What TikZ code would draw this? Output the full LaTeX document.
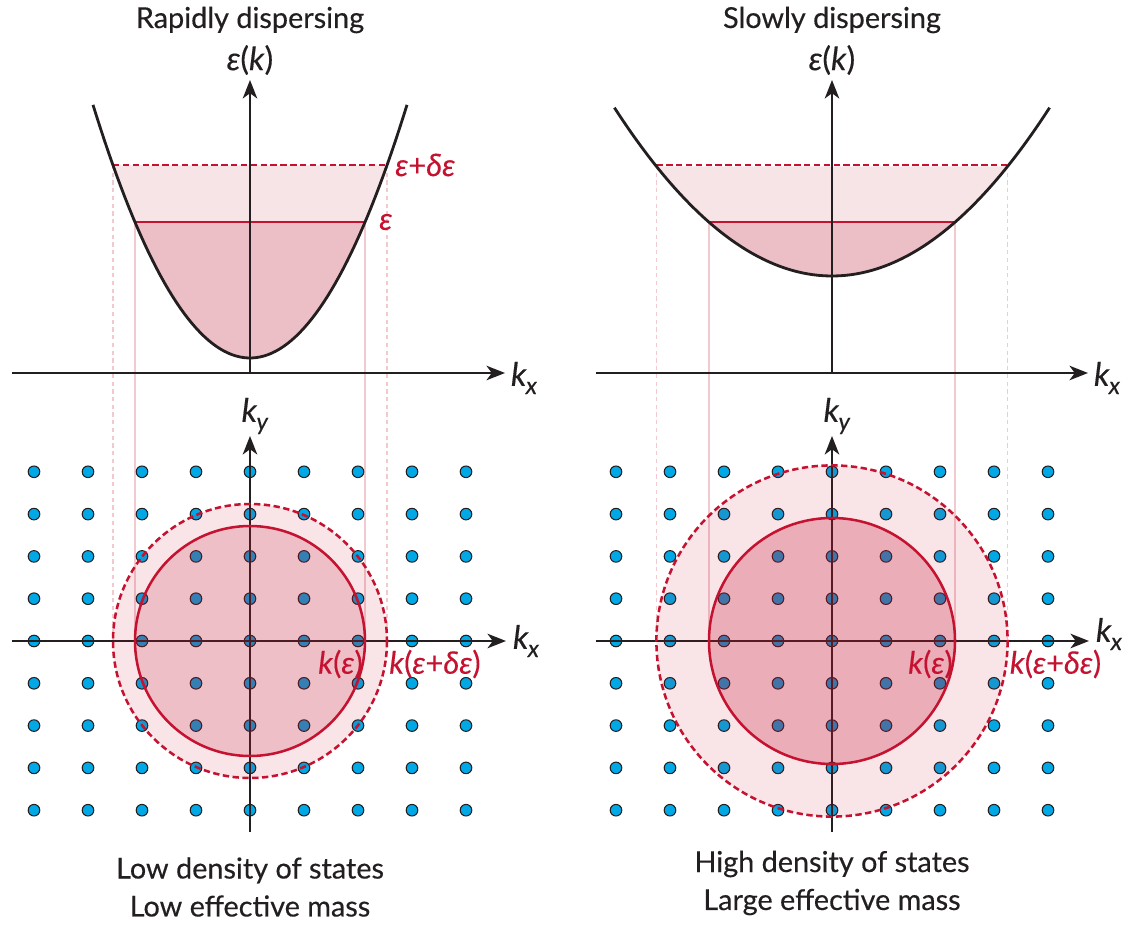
\documentclass[tikz,border=0pt]{standalone}
\usepackage{fontspec}
\setmainfont{Lato}[FakeBold=0.35]
\usetikzlibrary{arrows.meta}
\definecolor{InkDark}{HTML}{231F20}
\definecolor{LevelRed}{HTML}{C41230}
\definecolor{FillLight}{HTML}{F7E4E7}
\definecolor{FillDark}{HTML}{ECBEC6}
\definecolor{GuidePink}{HTML}{F3C9D0}
\definecolor{StateBlue}{HTML}{00A8E6}
\newcommand{\kvar}[1]{\textit{k}\kern-0.5pt\raisebox{-0.5ex}{\fontsize{17}{17}\selectfont\textit{#1}}}
\begin{document}
\begin{tikzpicture}[
  x=0.025cm, y=-0.025cm,
  axis/.style={line width=2pt, draw=InkDark, -{Stealth[length=4.6mm,width=3.6mm,inset=1.3mm]}},
  band/.style={line width=2pt, draw=InkDark},
  level/.style={line width=1.8pt, draw=LevelRed},
  guide/.style={line width=1pt, draw=GuidePink},
  state/.style={circle, draw=InkDark, fill=StateBlue, line width=0.75pt, minimum size=0.29cm, inner sep=0pt},
  lbl/.style={font=\fontsize{20.5}{27}\selectfont, text=InkDark, inner sep=0pt},
  sym/.style={lbl, font=\fontsize{23}{27}\selectfont},
  redsym/.style={sym, font=\fontsize{22}{27}\selectfont, text=LevelRed},
]
\useasboundingbox (0,0) rectangle (1134,926);
\foreach \p/\cx/\vy/\ri/\ro/\w/\fo/\xa/\xb/\kxy/\ttl/\cy/\cap in {
  L/250/358/115/137/157/0.18/12/505/641/{Rapidly dispersing}/887/{Low density of states\\Low effective mass},
  R/832/276/123/175.6/217.6/0.26/596/1088/634/{Slowly dispersing}/883/{High density of states\\Large effective mass}}{
  \pgfmathsetmacro{\cf}{(\vy-222)/(\ri*\ri)}
  % dispersion panel
  \coordinate (dl\p) at ({\cx-\ro},165);
  \coordinate (dr\p) at ({\cx+\ro},165);
  \coordinate (el\p) at ({\cx-\ri},222);
  \coordinate (er\p) at ({\cx+\ri},222);
  \coordinate (gdl\p) at ({\cx-\ro},641);
  \coordinate (gdr\p) at ({\cx+\ro},641);
  \coordinate (gel\p) at ({\cx-\ri},641);
  \coordinate (ger\p) at ({\cx+\ri},641);
  \fill[FillLight] plot[domain=-\ro:\ro, samples=60] ({\cx+\x},{\vy-(\cf*\x)*\x}) -- cycle;
  \fill[FillDark] plot[domain=-\ri:\ri, samples=60] ({\cx+\x},{\vy-(\cf*\x)*\x}) -- cycle;
  \draw[guide, dash pattern=on 3pt off 2.5pt] (dl\p) -- (gdl\p);
  \draw[guide, dash pattern=on 3pt off 2.5pt] (dr\p) -- (gdr\p);
  \draw[guide] (el\p) -- (gel\p);
  \draw[guide] (er\p) -- (ger\p);
  \draw[level, dash pattern=on 4.5pt off 2.5pt] (dl\p) -- (dr\p);
  \draw[level] (el\p) -- (er\p);
  \draw[band] plot[domain=-\w:\w, samples=80] ({\cx+\x},{\vy-(\cf*\x)*\x});
  \coordinate (ex0\p) at (\xa,373);
  \coordinate (ex1\p) at (\xb,373);
  \coordinate (ey0\p) at (\cx,373);
  \coordinate (ey1\p) at (\cx,80);
  \draw[axis] (ex0\p) -- (ex1\p);
  \draw[axis] (ey0\p) -- (ey1\p);
  \node[lbl] (title\p) at (\cx,20) {\ttl};
  \node[sym] (energy\p) at (\cx,60) {\textit{ε}(\textit{k})};
  \node[sym] (kxtop\p) at ({\xb+19},378) {\kvar{x}};
  % k-space panel
  \coordinate (o\p) at (\cx,641);
  \foreach \i in {-4,...,4}{
    \foreach \j in {-4,...,4}{
      \node[state] (s\p\i\j) at ({\cx+54*\i},{641+42.3*\j}) {};
    }
  }
  \coordinate (kx0\p) at (\xa,641);
  \coordinate (kx1\p) at ({\xb+1},641);
  \coordinate (ky0\p) at (\cx,832);
  \coordinate (ky1\p) at (\cx,436);
  \draw[axis] (kx0\p) -- (kx1\p);
  \draw[axis] (ky0\p) -- (ky1\p);
  \fill[LevelRed, opacity=0.11] (o\p) circle[radius=\ro];
  \fill[LevelRed, opacity=\fo] (o\p) circle[radius=\ri];
  \draw[level] (o\p) circle[radius=\ri];
  \draw[level, dash pattern=on 4.5pt off 2.5pt] (o\p) circle[radius=\ro];
  \node[sym] (kxlow\p) at ({\xb+21},\kxy) {\kvar{x}};
  \node[sym] (ky\p) at ({\cx+5},416) {\kvar{y}};
  \node[redsym, anchor=east] (kin\p) at ({\cx+\ri-2},664) {\textit{k}(\textit{ε})};
  \node[redsym, anchor=west] (kout\p) at ({\cx+\ro+2},664) {\textit{k}(\textit{ε}+\textit{δε})};
  \node[lbl, align=center] (caption\p) at (\cx,\cy) {\cap};
}
\node[redsym, anchor=west] (eps) at (379,222) {\textit{ε}};
\node[redsym, anchor=west] (epsd) at (395,165) {\textit{ε}+\textit{δε}};
\end{tikzpicture}
\end{document}
